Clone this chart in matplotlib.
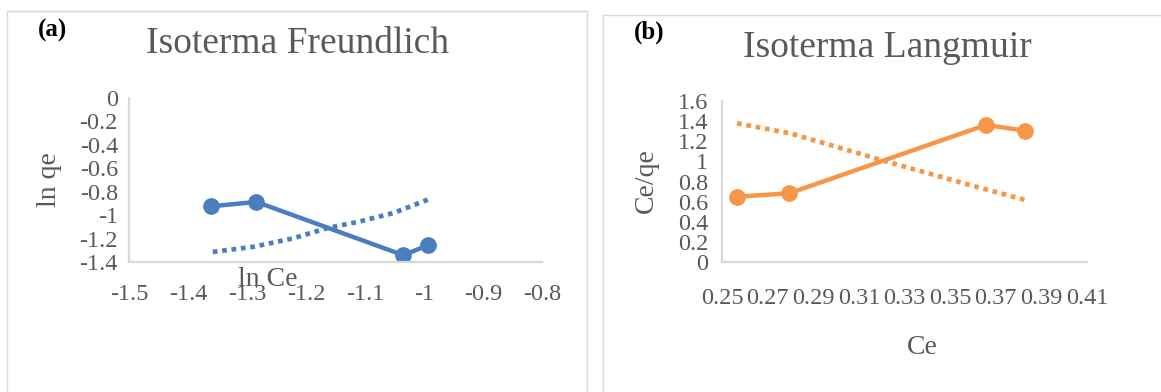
import matplotlib
matplotlib.use("Agg")
import matplotlib.pyplot as plt
from matplotlib.patches import Rectangle

# Freundlich (a)
ln_ce = [-1.361, -1.284, -1.035, -0.993]
ln_qe = [-0.925, -0.887, -1.342, -1.256]
trend_a_x = [-1.358, -1.289, -1.222, -1.165, -1.109, -1.052, -0.993]
trend_a_y = [-1.314, -1.270, -1.198, -1.112, -1.054, -0.982, -0.867]
xticks_a = [-1.5, -1.4, -1.3, -1.2, -1.1, -1.0, -0.9, -0.8]
yticks_a = [0, -0.2, -0.4, -0.6, -0.8, -1.0, -1.2, -1.4]

# Langmuir (b)
ce = [0.2566, 0.2795, 0.3657, 0.383]
ce_qe = [0.649, 0.683, 1.362, 1.305]
trend_b_x = [0.2566, 0.2799, 0.3223, 0.3603, 0.383]
trend_b_y = [1.378, 1.279, 0.997, 0.755, 0.616]
xticks_b = [0.25, 0.27, 0.29, 0.31, 0.33, 0.35, 0.37, 0.39, 0.41]
yticks_b = [0, 0.2, 0.4, 0.6, 0.8, 1.0, 1.2, 1.4, 1.6]

W, H = 1161, 392
BLUE = "#4a7ebf"
ORANGE = "#f79646"
GRAY = "#595959"
LINE = "#d9d9d9"
FONT = "Liberation Serif"

plt.rcParams["font.family"] = FONT

fig = plt.figure(figsize=(W / 100, H / 100), dpi=100)


def box(x0, y0, x1, y1):
    return [x0 / W, 1 - y1 / H, (x1 - x0) / W, (y1 - y0) / H]


def fmt(v):
    return f"{v:g}"


# panel borders
fig.patches.append(Rectangle((7 / W, -0.1), (587 - 7) / W, 1.1 - 11 / H,
                             transform=fig.transFigure, fill=False,
                             edgecolor=LINE, lw=1))
fig.patches.append(Rectangle((603 / W, -0.1), 1.0, 1.1 - 15 / H,
                             transform=fig.transFigure, fill=False,
                             edgecolor=LINE, lw=1))


def style(ax, xticks, yticks, xpad, ypad):
    for s in ["top", "right"]:
        ax.spines[s].set_visible(False)
    for s in ["left", "bottom"]:
        ax.spines[s].set_color(LINE)
        ax.spines[s].set_linewidth(1.6)
    ax.set_xticks(xticks)
    ax.set_yticks(yticks)
    ax.set_xticklabels([fmt(v) for v in xticks])
    ax.set_yticklabels([fmt(v) for v in yticks])
    ax.tick_params(axis="x", length=0, pad=xpad, labelsize=17.5, labelcolor=GRAY)
    ax.tick_params(axis="y", length=0, pad=ypad, labelsize=17.5, labelcolor=GRAY)
    ax.set_facecolor("none")


# (a)
ax1 = fig.add_axes(box(129, 98, 542, 262))
ax1.plot(ln_ce, ln_qe, color=BLUE, lw=3.2, marker="o", ms=11)
ax1.plot(trend_a_x, trend_a_y, color=BLUE, lw=3.4, linestyle=(0, (1, 1)),
         dash_capstyle="butt")
ax1.set_xlim(-1.5, -0.8)
ax1.set_ylim(-1.4, 0)
style(ax1, xticks_a, yticks_a, 16, 8)

# (b)
ax2 = fig.add_axes(box(722, 101, 1087, 262))
ax2.plot(ce, ce_qe, color=ORANGE, lw=3.2, marker="o", ms=11)
ax2.plot(trend_b_x, trend_b_y, color=ORANGE, lw=3.4, linestyle=(0, (1, 1)),
         dash_capstyle="butt")
ax2.set_xlim(0.25, 0.41)
ax2.set_ylim(0, 1.6)
style(ax2, xticks_b, yticks_b, 19, 10)

# texts
fig.text(298 / W, 1 - 53 / H, "Isoterma Freundlich", ha="center", va="baseline",
         fontsize=27, color=GRAY)
fig.text(887 / W, 1 - 57 / H, "Isoterma Langmuir", ha="center", va="baseline",
         fontsize=27, color=GRAY)
fig.text(38 / W, 1 - 30 / H, "(a)", ha="left", va="center",
         fontsize=18, fontweight="bold", color="black")
fig.text(634 / W, 1 - 32 / H, "(b)", ha="left", va="center",
         fontsize=18, fontweight="bold", color="black")
fig.text(49 / W, 1 - 180 / H, "ln qe", ha="center", va="center", rotation=90,
         fontsize=20, color=GRAY)
fig.text(646 / W, 1 - 181 / H, "Ce/qe", ha="center", va="center", rotation=90,
         fontsize=20, color=GRAY)
fig.text(268 / W, 1 - 280 / H, "ln Ce", ha="center", va="center",
         fontsize=20, color=GRAY)
fig.text(922 / W, 1 - 348 / H, "Ce", ha="center", va="center",
         fontsize=20, color=GRAY)

fig.savefig("out.png", dpi=100, facecolor="white")
